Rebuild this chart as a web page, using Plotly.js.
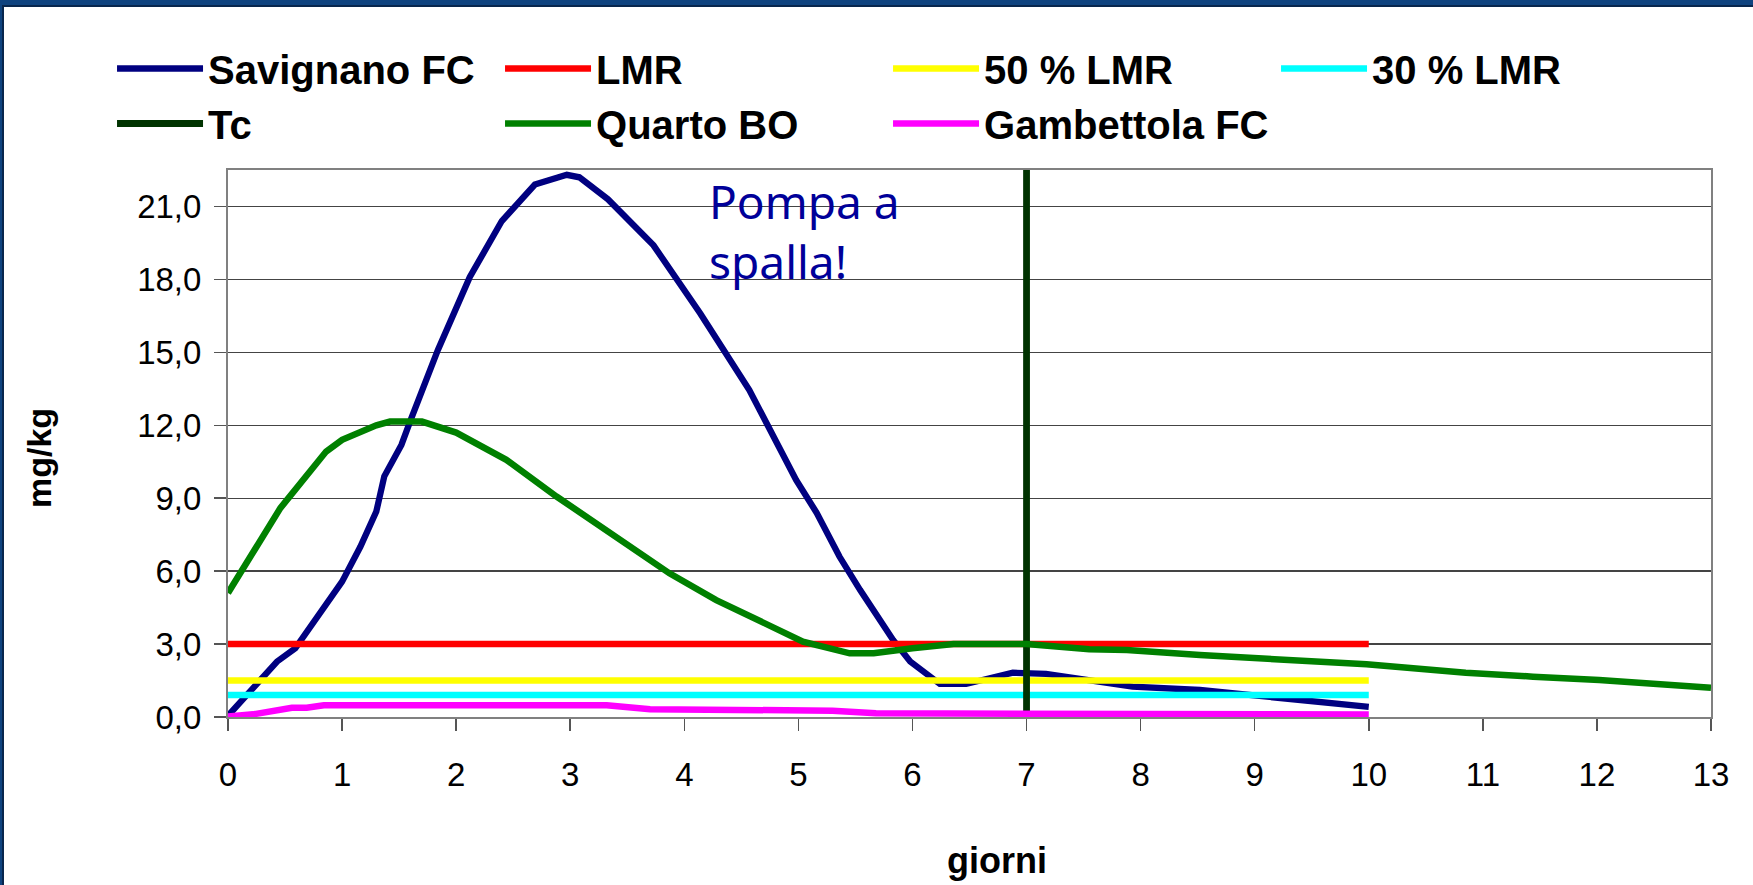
<!DOCTYPE html>
<html><head><meta charset="utf-8">
<script src="https://cdn.plot.ly/plotly-3.0.1.min.js"></script>
<style>
html,body{margin:0;padding:0;background:#0f437f;width:1753px;height:885px;overflow:hidden;}
#chart{position:absolute;left:2px;top:5px;width:1749px;height:878px;border-top:2px solid #08264d;border-left:2px solid #08264d;background:#fff;}
</style></head><body><div id="chart"></div>
<script>
// ---- data ----
const savX = [0, 0.22, 0.43, 0.59, 0.81, 1.0, 1.16, 1.30, 1.37, 1.52, 1.60, 1.84, 2.12, 2.40, 2.69, 2.97, 3.08, 3.33, 3.73, 4.14, 4.57, 4.98, 5.16, 5.36, 5.54, 5.83, 5.98, 6.18, 6.24, 6.47, 6.88, 7.17, 7.64, 7.93, 8.52, 10.0];
const savY = [0.05, 1.18, 2.28, 2.83, 4.27, 5.57, 7.0, 8.45, 9.9, 11.19, 12.2, 15.1, 18.1, 20.4, 21.9, 22.3, 22.2, 21.3, 19.4, 16.6, 13.45, 9.75, 8.4, 6.6, 5.23, 3.17, 2.28, 1.52, 1.36, 1.36, 1.82, 1.77, 1.45, 1.25, 1.11, 0.42];

const lmrX = [0, 10];
const lmrY = [3, 3];
const lmr50X = [0, 10];
const lmr50Y = [1.5, 1.5];
const lmr30X = [0, 10];
const lmr30Y = [0.9, 0.9];

const tcX = [7, 7];
const tcY = [0, 22.5];

const quaX = [0, 0.13, 0.25, 0.46, 0.63, 0.86, 1.0, 1.30, 1.42, 1.70, 2.0, 2.44, 2.88, 3.23, 3.87, 4.28, 4.87, 5.04, 5.45, 5.66, 6.0, 6.36, 7.0, 7.55, 7.88, 8.52, 9.98, 10.85, 11.44, 12.02, 13.0];
const quaY = [5.1, 6.05, 7.0, 8.6, 9.62, 10.92, 11.4, 12.0, 12.15, 12.15, 11.7, 10.58, 9.07, 7.97, 5.91, 4.81, 3.44, 3.1, 2.62, 2.62, 2.83, 3.0, 3.0, 2.79, 2.76, 2.55, 2.17, 1.82, 1.66, 1.52, 1.2];

const gamX = [0, 0.22, 0.56, 0.69, 0.84, 3.32, 3.70, 4.55, 5.01, 5.30, 5.68, 8.52, 10.0];
const gamY = [0.02, 0.11, 0.38, 0.38, 0.48, 0.48, 0.32, 0.32, 0.26, 0.26, 0.15, 0.14, 0.1];

const seriesNames = ['Savignano FC', 'LMR', '50 % LMR', '30 % LMR', 'Tc', 'Quarto BO', 'Gambettola FC'];
const xTickVals = [0,1,2,3,4,5,6,7,8,9,10,11,12,13];
const yTickVals = [0,3,6,9,12,15,18,21];
const xTitle = 'giorni';
const yTitle = 'mg/kg';
const noteText = 'Pompa a<br>spalla!';

// ---- traces ----
const mk = (x, y, name, color, w) => ({x, y, name, type: 'scatter', mode: 'lines', line: {color, width: w}, hoverinfo: 'skip'});
const traces = [
  mk(savX, savY, seriesNames[0], '#000080', 6.3),
  mk(lmrX, lmrY, seriesNames[1], '#FF0000', 6.5),
  mk(lmr50X, lmr50Y, seriesNames[2], '#FFFF00', 6.5),
  mk(lmr30X, lmr30Y, seriesNames[3], '#00FFFF', 6.5),
  mk(tcX, tcY, seriesNames[4], '#003300', 6.8),
  mk(quaX, quaY, seriesNames[5], '#008000', 6.5),
  mk(gamX, gamY, seriesNames[6], '#FF00FF', 6.5)
];

const tickFont = {family: 'Arial, "Liberation Sans", sans-serif', size: 33, color: '#000'};
const boldFont = (s) => ({family: 'Arial, "Liberation Sans", sans-serif', size: s, color: '#000', weight: 'bold'});

const layout = {
  width: 1749, height: 878,
  margin: {l: 224, r: 42, t: 163, b: 168, pad: 0, autoexpand: false},
  paper_bgcolor: '#ffffff', plot_bgcolor: '#ffffff',
  separators: ', ',
  showlegend: true,
  legend: {
    orientation: 'h', xref: 'paper', yref: 'paper',
    x: -0.0782, y: 1.245, xanchor: 'left', yanchor: 'top',
    entrywidth: 287, entrywidthmode: 'pixels', itemwidth: 86,
    font: boldFont(40), bgcolor: 'rgba(0,0,0,0)', traceorder: 'normal'
  },
  xaxis: {
    range: [0, 13], tickvals: xTickVals, showgrid: false, zeroline: false,
    showline: true, mirror: true, linecolor: '#808080', linewidth: 2,
    ticks: 'outside', ticklen: 12, tickwidth: 1.5, tickcolor: '#555',
    tickfont: tickFont, ticklabelstandoff: 15, fixedrange: true
  },
  yaxis: {
    range: [0, 22.5], tickvals: yTickVals, tickformat: '.1f',
    showgrid: true, gridcolor: '#444', gridwidth: 1.3, zeroline: false,
    showline: true, mirror: true, linecolor: '#808080', linewidth: 2,
    ticks: 'outside', ticklen: 12, tickwidth: 1.5, tickcolor: '#555',
    tickfont: tickFont, ticklabelstandoff: 6, fixedrange: true
  },
  annotations: [
    {text: noteText, xref: 'x', yref: 'y', x: 4.2, y: 20.0, xanchor: 'left', yanchor: 'middle', align: 'left', showarrow: false,
     font: {family: '"Noto Sans", sans-serif', size: 46, color: '#000099'}},
    {text: yTitle, xref: 'paper', yref: 'paper', x: -0.1274, y: 0.4735, xanchor: 'center', yanchor: 'middle', textangle: -90, showarrow: false, font: boldFont(34)},
    {text: xTitle, xref: 'paper', yref: 'paper', x: 0.5186, y: -0.263, xanchor: 'center', yanchor: 'middle', showarrow: false, font: boldFont(36)}
  ]
};

Plotly.newPlot('chart', traces, layout, {staticPlot: true, displayModeBar: false});
</script></body></html>
